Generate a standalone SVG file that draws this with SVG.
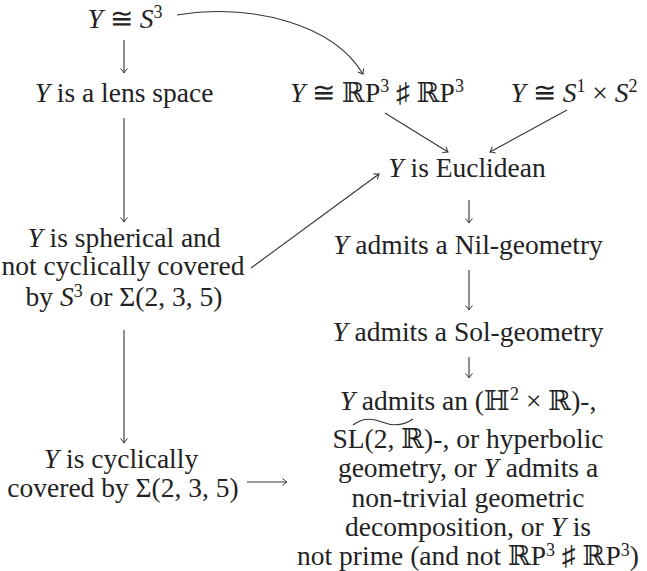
<svg xmlns="http://www.w3.org/2000/svg" width="647" height="571" viewBox="0 0 647 571">
<style>
text{font-family:"Liberation Serif","DejaVu Serif",serif;font-size:27.5px;fill:#222;text-anchor:middle}
.i{font-style:italic}
.sup{font-size:18px}
.c{fill:none;stroke:#333;stroke-width:1.1}
</style>
<defs>
<marker id="ar" markerUnits="userSpaceOnUse" markerWidth="12" markerHeight="12" viewBox="-6 -6 12 12" refX="0" refY="0" orient="auto">
<path d="M-4.5,-3.5 Q-1.2,-0.6 0,0 Q-1.2,0.6 -4.5,3.5" fill="none" stroke="#333" stroke-width="1"/>
</marker>
</defs>
<g id="connectors">
<line class="c" x1="124" y1="40" x2="124" y2="73" marker-end="url(#ar)"/>
<path class="c" d="M177,15 C252,3 333,24 363,74" marker-end="url(#ar)"/>
<line class="c" x1="124" y1="118" x2="124" y2="222" marker-end="url(#ar)"/>
<line class="c" x1="124" y1="330" x2="124" y2="443" marker-end="url(#ar)"/>
<line class="c" x1="385" y1="113" x2="448" y2="152" marker-end="url(#ar)"/>
<line class="c" x1="567" y1="110" x2="490" y2="152" marker-end="url(#ar)"/>
<line class="c" x1="251" y1="268" x2="379" y2="174" marker-end="url(#ar)"/>
<line class="c" x1="469" y1="200" x2="469" y2="223" marker-end="url(#ar)"/>
<line class="c" x1="469" y1="270" x2="469" y2="310" marker-end="url(#ar)"/>
<line class="c" x1="469" y1="357" x2="469" y2="378" marker-end="url(#ar)"/>
<line class="c" x1="247" y1="482" x2="287" y2="482" marker-end="url(#ar)"/>
</g>
<g id="s3"><text x="125" y="28"><tspan class="i">Y</tspan> ≅ <tspan class="i">S</tspan><tspan class="sup" dy="-10">3</tspan></text></g>
<g id="lens"><text x="124" y="102"><tspan class="i">Y</tspan> is a lens space</text></g>
<g id="rp3"><text x="377" y="102"><tspan class="i">Y</tspan> ≅ ℝP<tspan class="sup" dy="-10">3</tspan><tspan dy="10"> ♯ ℝP</tspan><tspan class="sup" dy="-10">3</tspan></text></g>
<g id="s1s2"><text x="574" y="102"><tspan class="i">Y</tspan> ≅ <tspan class="i">S</tspan><tspan class="sup" dy="-10">1</tspan><tspan dy="10"> × </tspan><tspan class="i">S</tspan><tspan class="sup" dy="-10">2</tspan></text></g>
<g id="euclid"><text x="467" y="177"><tspan class="i">Y</tspan> is Euclidean</text></g>
<g id="spherical">
<text x="124" y="247"><tspan class="i">Y</tspan> is spherical and</text>
<text x="123" y="275">not cyclically covered</text>
<text x="124" y="306">by <tspan class="i">S</tspan><tspan class="sup" dy="-9">3</tspan><tspan dy="9"> or Σ(2, 3, 5)</tspan></text>
</g>
<g id="nil"><text x="468" y="254"><tspan class="i">Y</tspan> admits a Nil-geometry</text></g>
<g id="sol"><text x="468" y="341"><tspan class="i">Y</tspan> admits a Sol-geometry</text></g>
<g id="cyclic">
<text x="121" y="468"><tspan class="i">Y</tspan> is cyclically</text>
<text x="123" y="497">covered by Σ(2, 3, 5)</text>
</g>
<g id="bottom">
<text x="468" y="410"><tspan class="i">Y</tspan> admits an (ℍ<tspan class="sup" dy="-10">2</tspan><tspan dy="10"> × ℝ)-,</tspan></text>
<path d="M353,425 C362,418 372,418 382,422 C392,426 403,426 413,419" fill="none" stroke="#333" stroke-width="1.1"/>
<text x="468" y="448">SL(2, ℝ)-, or hyperbolic</text>
<text x="468" y="477">geometry, or <tspan class="i">Y</tspan> admits a</text>
<text x="468" y="507">non-trivial geometric</text>
<text x="468" y="536">decomposition, or <tspan class="i">Y</tspan> is</text>
<text x="468" y="565">not prime (and not ℝP<tspan class="sup" dy="-9">3</tspan><tspan dy="9"> ♯ ℝP</tspan><tspan class="sup" dy="-9">3</tspan><tspan dy="9">)</tspan></text>
</g>
</svg>
